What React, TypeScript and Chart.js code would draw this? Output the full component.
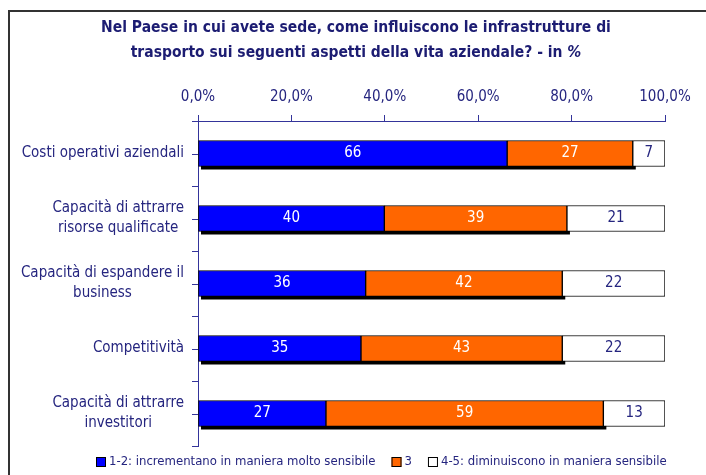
import React, { useEffect, useRef } from "react";
import { Chart, registerables } from "chart.js";

Chart.register(...registerables);

const titleLine1 = "Nel Paese in cui avete sede, come influiscono le infrastrutture di";
const titleLine2 = "trasporto sui seguenti aspetti della vita aziendale? - in ";
const titleItalic = "%";

const categories: string[][] = [
  ["Costi operativi aziendali"],
  ["Capacità di attrarre", "risorse qualificate"],
  ["Capacità di espandere il", "business"],
  ["Competitività"],
  ["Capacità di attrarre", "investitori"],
];

const seriesNames = [
  "1-2: incrementano in maniera molto sensibile",
  "3",
  "4-5: diminuiscono in maniera sensibile",
];

const valuesLow = [66.2, 39.9, 35.9, 34.9, 27.4];
const valuesMid = [26.9, 39.1, 42.1, 43.1, 59.4];
const valuesHigh = [6.9, 21.0, 22.0, 22.0, 13.2];

const shownLow = [66, 40, 36, 35, 27];
const shownMid = [27, 39, 42, 43, 59];
const shownHigh = [7, 21, 22, 22, 13];

const xTicks = [0, 20, 40, 60, 80, 100];

const FONT = "'Liberation Sans Narrow', 'Arial Narrow', 'DejaVu Sans Condensed', sans-serif";
const NAVY = "#25257f";
const AXIS = "#34349a";
const BLUE = "#0000ff";
const ORANGE = "#ff6600";
const WHITE = "#ffffff";

export default function App() {
  const ref = useRef<HTMLCanvasElement | null>(null);

  useEffect(() => {
    document.body.style.margin = "0";
    const canvas = ref.current!;
    const shown = [shownLow, shownMid, shownHigh];

    const decor = {
      id: "decor",
      beforeDatasetsDraw(chart: any) {
        const ctx = chart.ctx;
        const x = chart.scales.x;
        const m0 = chart.getDatasetMeta(0);
        ctx.save();
        ctx.fillStyle = "#000";
        m0.data.forEach((bar: any, i: number) => {
          const x0 = x.getPixelForValue(0);
          const x1 = x.getPixelForValue(valuesLow[i] + valuesMid[i]);
          const h = bar.height;
          ctx.fillRect(x0 + 3, bar.y - h / 2 + 3, x1 - x0, h);
        });
        ctx.restore();
      },
      afterDraw(chart: any) {
        const ctx = chart.ctx;
        const y = chart.scales.y;
        const ca = chart.chartArea;
        ctx.save();
        // frame
        ctx.strokeStyle = "#333333";
        ctx.lineWidth = 2;
        ctx.beginPath();
        ctx.moveTo(9, 480);
        ctx.lineTo(9, 11);
        ctx.lineTo(710, 11);
        ctx.stroke();

        // title
        ctx.fillStyle = "#1c1c72";
        ctx.textBaseline = "middle";
        ctx.font = `bold 15.5px ${FONT}`;
        ctx.textAlign = "center";
        const cx = 356;
        ctx.fillText(titleLine1, cx, 28);
        const w2 = ctx.measureText(titleLine2).width;
        ctx.font = `italic bold 15.5px ${FONT}`;
        const w3 = ctx.measureText(titleItalic).width;
        const start = cx - (w2 + w3) / 2;
        ctx.textAlign = "left";
        ctx.font = `bold 15.5px ${FONT}`;
        ctx.fillText(titleLine2, start, 53);
        ctx.font = `italic bold 15.5px ${FONT}`;
        ctx.fillText(titleItalic, start + w2, 53);

        // top axis line
        ctx.strokeStyle = AXIS;
        ctx.lineWidth = 1;
        ctx.beginPath();
        ctx.moveTo(ca.left - 6, Math.round(ca.top) + 0.5);
        ctx.lineTo(ca.right, Math.round(ca.top) + 0.5);
        ctx.stroke();

        // center ticks on category axis
        categories.forEach((_, i) => {
          const py = Math.round(y.getPixelForTick(i)) + 0.5;
          ctx.beginPath();
          ctx.moveTo(ca.left - 6, py);
          ctx.lineTo(ca.left, py);
          ctx.stroke();
        });

        // category labels
        ctx.font = `15px ${FONT}`;
        ctx.fillStyle = NAVY;
        ctx.textAlign = "center";
        ctx.textBaseline = "middle";
        const right = ca.left - 14;
        categories.forEach((lines, i) => {
          const py = y.getPixelForTick(i);
          const bw = Math.max(...lines.map((l) => ctx.measureText(l).width));
          const lh = 20;
          lines.forEach((l, j) => {
            ctx.fillText(l, right - bw / 2, py + (j - (lines.length - 1) / 2) * lh);
          });
        });

        // value labels
        ctx.font = `15px ${FONT}`;
        for (let d = 0; d < 3; d++) {
          const meta = chart.getDatasetMeta(d);
          ctx.fillStyle = d === 2 ? NAVY : "#ffffff";
          meta.data.forEach((bar: any, i: number) => {
            const mid = (bar.x + bar.base) / 2;
            ctx.fillText(String(shown[d][i]), mid, bar.y);
          });
        }

        // legend
        const colors = [BLUE, ORANGE, WHITE];
        ctx.font = `13px ${FONT}`;
        ctx.textAlign = "left";
        let lx = 96;
        const ly = 462;
        seriesNames.forEach((name, k) => {
          ctx.fillStyle = colors[k];
          ctx.fillRect(lx, ly - 5, 10, 10);
          ctx.strokeStyle = "#000";
          ctx.strokeRect(lx + 0.5, ly - 4.5, 9, 9);
          ctx.fillStyle = NAVY;
          ctx.fillText(name, lx + 13, ly);
          lx += 13 + ctx.measureText(name).width + 16;
        });
        ctx.restore();
      },
    };

    const chart = new Chart(canvas, {
      type: "bar",
      data: {
        labels: categories.map((c) => c.join(" ")),
        datasets: [
          { label: seriesNames[0], data: valuesLow, backgroundColor: BLUE },
          { label: seriesNames[1], data: valuesMid, backgroundColor: ORANGE },
          { label: seriesNames[2], data: valuesHigh, backgroundColor: WHITE },
        ].map((d) => ({
          ...d,
          borderColor: "#000",
          borderWidth: 1,
          borderSkipped: false,
          barThickness: 26,
        })),
      },
      options: {
        indexAxis: "y",
        responsive: false,
        animation: false,
        devicePixelRatio: 1,
        layout: { padding: { left: 0, right: 41, top: 0, bottom: 29 } },
        plugins: {
          legend: { display: false },
          title: { display: false },
          tooltip: { enabled: false },
        },
        scales: {
          x: {
            stacked: true,
            position: "top",
            min: 0,
            max: 100,
            afterBuildTicks: (scale: any) => {
              scale.ticks = xTicks.map((v) => ({ value: v }));
            },
            afterFit: (scale: any) => {
              scale.height = 121;
            },
            ticks: {
              color: NAVY,
              font: { family: FONT, size: 15 },
              padding: 9,
              callback: (v: any) => Number(v).toFixed(1).replace(".", ",") + "%",
            },
            grid: {
              drawOnChartArea: false,
              drawTicks: true,
              tickLength: 6,
              color: AXIS,
            },
            border: { display: true, color: AXIS },
          },
          y: {
            stacked: true,
            afterFit: (scale: any) => {
              scale.width = 198;
            },
            ticks: { display: false },
            grid: {
              offset: true,
              drawOnChartArea: false,
              drawTicks: true,
              tickLength: 6,
              color: AXIS,
            },
            border: { display: true, color: AXIS },
          },
        },
      },
      plugins: [decor],
    } as any);

    return () => chart.destroy();
  }, []);

  return <canvas ref={ref} width={706} height={475} style={{ display: "block" }} />;
}
